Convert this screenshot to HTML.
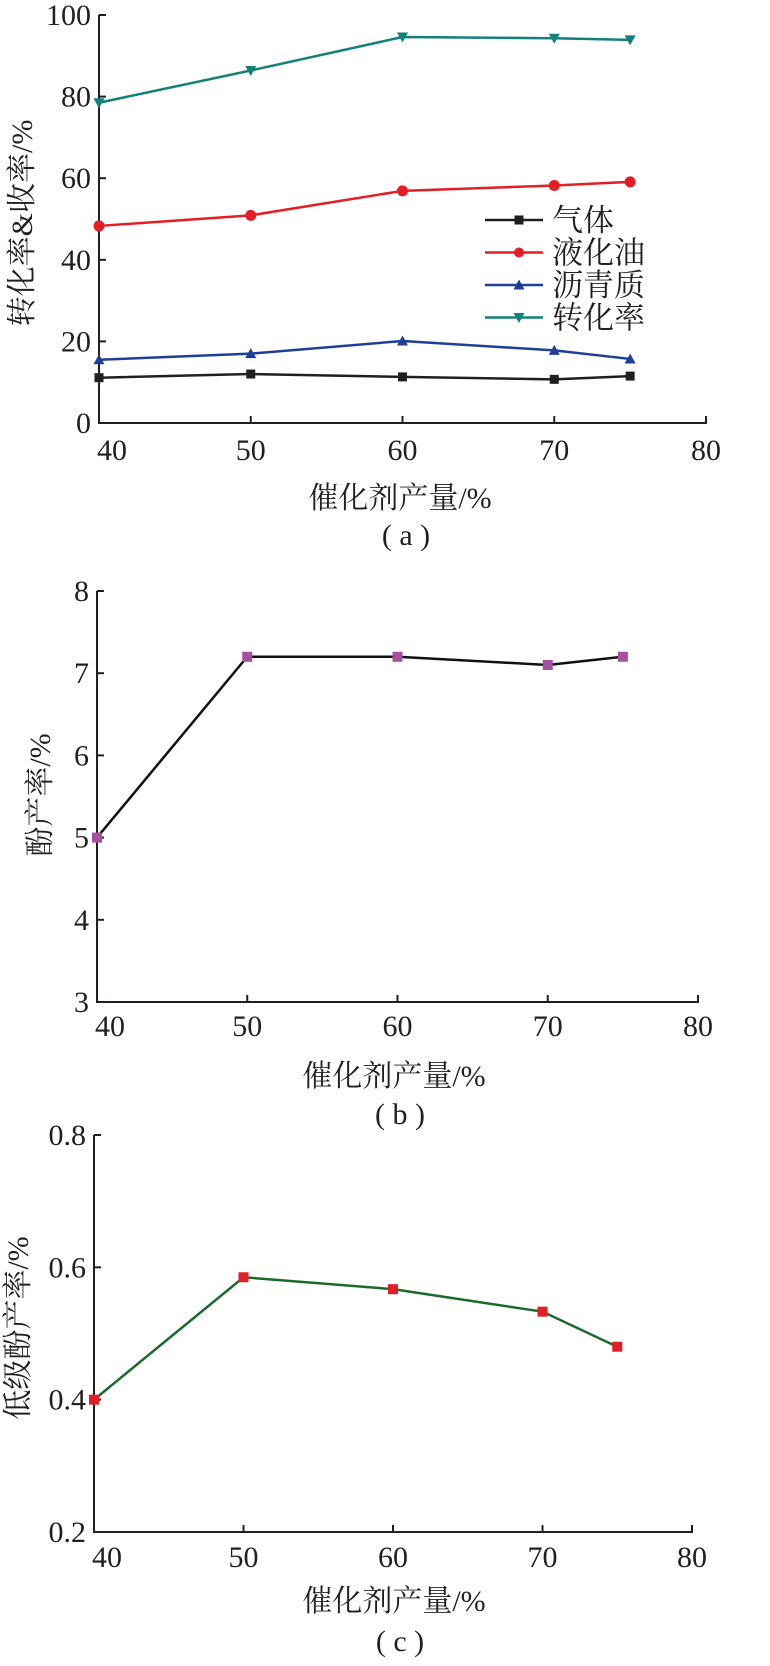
<!DOCTYPE html>
<html><head><meta charset="utf-8"><style>
html,body{margin:0;padding:0;background:#fff;}
svg text{font-family:"Liberation Serif","Noto Serif CJK SC",serif;fill:#231f20;}
.cj{font-family:"Liberation Serif","Noto Serif CJK SC","Noto Sans CJK SC",serif;}
</style></head><body>
<svg id="fig" width="770" height="1661" viewBox="0 0 770 1661" xmlns="http://www.w3.org/2000/svg"></svg>
<script>
// Shared x categories
const xCats = [40, 50, 60, 70, 75];
const xTicks = [40, 50, 60, 70, 80];
// Panel a
const aGas = [11.1, 12.0, 11.3, 10.7, 11.5];
const aOil = [48.3, 50.9, 56.9, 58.2, 59.1];
const aAsph = [15.5, 17.0, 20.1, 17.8, 15.7];
const aConv = [78.5, 86.4, 94.6, 94.3, 93.9];
const aYTicks = [0, 20, 40, 60, 80, 100];
const aLegend = ["气体", "液化油", "沥青质", "转化率"];
// Panel b
const bPhenol = [5.0, 7.2, 7.2, 7.1, 7.2];
const bYTicks = [3, 4, 5, 6, 7, 8];
// Panel c
const cLow = [0.40, 0.585, 0.567, 0.533, 0.480];
const cYTicks = ["0.2", "0.4", "0.6", "0.8"];

const NS = "http://www.w3.org/2000/svg";
const svg = document.getElementById("fig");
function mk(tag, attrs, parent) {
  const e = document.createElementNS(NS, tag);
  for (const k in attrs) e.setAttribute(k, attrs[k]);
  (parent || svg).appendChild(e);
  return e;
}
function txt(s, x, y, size, anchor, parent) {
  const t = mk("text", {x: x, y: y, "font-size": size, "text-anchor": anchor || "middle"}, parent);
  t.textContent = s;
  return t;
}

function panel(cfg) {
  const g = mk("g", {});
  
  
  const sx = v => cfg.x0 + (v - 40) * (cfg.x1 - cfg.x0) / 40;
  const sy = v => cfg.yb + (v - cfg.ymin) * (cfg.yt - cfg.yb) / (cfg.ymax - cfg.ymin);
  // axes
  const ax = mk("path", {d: `M${cfg.x0},${cfg.yt} V${cfg.yb} H${cfg.x1} V${cfg.yb - 7}`, fill: "none", stroke: "#231f20", "stroke-width": 2}, g);
  
  
  cfg.yTicks.forEach(v => {
    const y = sy(parseFloat(v));
    if (parseFloat(v) !== cfg.ymin) mk("line", {x1: cfg.x0, x2: cfg.x0 + 7, y1: y, y2: y, stroke: "#231f20", "stroke-width": 2}, g);
    const t = txt(String(v), cfg.x0 - 8, y + 10, 30, "end", g);
    
    
  });
  xTicks.forEach(v => {
    const x = sx(v);
    if (v !== 40) mk("line", {x1: x, x2: x, y1: cfg.yb, y2: cfg.yb - 7, stroke: "#231f20", "stroke-width": 2}, g);
    const t = txt(String(v), v === 40 ? x + 13 : x, cfg.xl, 30, "middle", g);
    
    
  });
  const xt = txt("催化剂产量/%", cfg.xtx, cfg.xty, 30, "middle", g);
  
  
  const lab = txt(cfg.label, cfg.xtx + 6, cfg.laby, 30, "middle", g);
  
  
  const yt = mk("text", {x: 0, y: 0, "font-size": 30, "text-anchor": "middle", transform: `translate(${cfg.ytx},${cfg.yty}) rotate(-90)`}, g);
  yt.textContent = cfg.ytitle;
  
  
  cfg.series.forEach(s => {
    const sg = mk("g", {}, g);
    
    
    const pts = xCats.map((c, i) => sx(c) + "," + sy(s.vals[i])).join(" ");
    const pl = mk("polyline", {points: pts, fill: "none", stroke: s.line, "stroke-width": 2.5}, sg);
    
    
    xCats.forEach((c, i) => {
      const m = marker(s.marker, s.color, sx(c), sy(s.vals[i]), s.size || 10, sg);
      
      
    });
  });
  return {g, sx, sy};
}
function marker(type, color, x, y, sz, parent) {
  const h = sz / 2;
  if (type === "square") return mk("rect", {x: x - h, y: y - h, width: sz, height: sz, fill: color}, parent);
  if (type === "circle") return mk("circle", {cx: x, cy: y, r: h + 0.5, fill: color}, parent);
  if (type === "up") return mk("polygon", {points: `${x},${y - h - 1} ${x - h - 1},${y + h} ${x + h + 1},${y + h}`, fill: color}, parent);
  return mk("polygon", {points: `${x},${y + h + 1} ${x - h - 1},${y - h} ${x + h + 1},${y - h}`, fill: color}, parent);
}

// Panel a
const pa = panel({name: "panel-a", x0: 99, x1: 706, yt: 15, yb: 423, ymin: 0, ymax: 100, yTicks: aYTicks,
  xl: 460, xtx: 400, xty: 508, laby: 545, label: "( a )", ytitle: "转化率&收率/%", ytx: 32, yty: 223,
  series: [
    {name: "series-gas", vals: aGas, line: "#231f20", color: "#231f20", marker: "square", size: 9},
    {name: "series-oil", vals: aOil, line: "#e41e25", color: "#e41e25", marker: "circle", size: 10},
    {name: "series-asphaltene", vals: aAsph, line: "#1f3e98", color: "#1f3e98", marker: "up", size: 9},
    {name: "series-conversion", vals: aConv, line: "#13807a", color: "#13807a", marker: "down", size: 9}
  ]});
const legColors = ["#231f20", "#e41e25", "#1f3e98", "#13807a"];
const legMarks = ["square", "circle", "up", "down"];
const lg = mk("g", {});


aLegend.forEach((s, i) => {
  const y = 220 + i * 32.5;
  const eg = mk("g", {}, lg);
  
  
  mk("line", {x1: 485, x2: 543, y1: y, y2: y, stroke: legColors[i], "stroke-width": 2.5}, eg);
  marker(legMarks[i], legColors[i], 519, y, 9, eg);
  txt(s, 552, y + 11, 31, "start", eg);
});

// Panel b
panel({name: "panel-b", x0: 97, x1: 698, yt: 591, yb: 1002, ymin: 3, ymax: 8, yTicks: bYTicks,
  xl: 1036, xtx: 394, xty: 1086, laby: 1124, label: "( b )", ytitle: "酚产率/%", ytx: 50, yty: 795,
  series: [{name: "series-phenol", vals: bPhenol, line: "#111", color: "#a5509f", marker: "square", size: 10}]});

// Panel c
panel({name: "panel-c", x0: 94, x1: 692, yt: 1135, yb: 1532, ymin: 0.2, ymax: 0.8, yTicks: cYTicks,
  xl: 1567, xtx: 394, xty: 1611, laby: 1651, label: "( c )", ytitle: "低级酚产率/%", ytx: 28, yty: 1328,
  series: [{name: "series-low-phenol", vals: cLow, line: "#1a6b2a", color: "#e31e24", marker: "square", size: 10}]});
</script>
</body></html>
